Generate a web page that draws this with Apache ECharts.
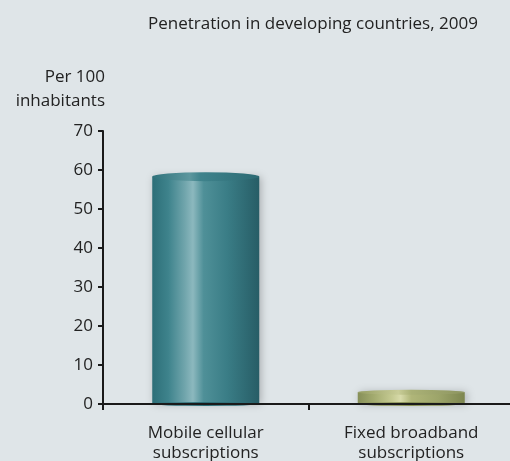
<!DOCTYPE html>
<html><head><meta charset="utf-8">
<script src="https://cdn.jsdelivr.net/npm/echarts@6/dist/echarts.min.js"></script>
<style>html,body{margin:0;padding:0;background:#dfe5e8}#c{width:510px;height:461px}</style>
</head><body><div id="c"></div>
<script>
const categories = ['Mobile cellular\nsubscriptions', 'Fixed broadband\nsubscriptions'];
const values = [58.3, 3.0];
const yTicks = [0, 10, 20, 30, 40, 50, 60, 70];
const titleText = 'Penetration in developing countries, 2009';
const yName = 'Per 100\ninhabitants';

const FONT = '"Open Sans", "Noto Sans", sans-serif';
const grads = [
  new echarts.graphic.LinearGradient(0,0,1,0,[
    {offset:0,color:'#2d6f78'},{offset:0.15,color:'#3e838c'},{offset:0.3,color:'#6fa4ab'},
    {offset:0.38,color:'#8cb8be'},{offset:0.48,color:'#4f9098'},{offset:0.7,color:'#3a7d86'},
    {offset:1,color:'#275d66'}]),
  new echarts.graphic.LinearGradient(0,0,1,0,[
    {offset:0,color:'#868f58'},{offset:0.15,color:'#a3ab6f'},{offset:0.32,color:'#c5ca92'},
    {offset:0.4,color:'#d8dbab'},{offset:0.5,color:'#b0b679'},{offset:0.75,color:'#9da56a'},
    {offset:1,color:'#7d8650'}])
];
const capGrads = [
  new echarts.graphic.LinearGradient(0,0,1,0,[
    {offset:0,color:'#2f727b'},{offset:0.35,color:'#5d979e'},{offset:0.45,color:'#3f838c'},{offset:1,color:'#2c6a73'}]),
  new echarts.graphic.LinearGradient(0,0,1,0,[
    {offset:0,color:'#959d62'},{offset:0.38,color:'#c9cd98'},{offset:0.5,color:'#aab176'},{offset:1,color:'#8d9560'}])
];
const capH = [9, 5];

const chart = echarts.init(document.getElementById('c'));
chart.setOption({
  backgroundColor: '#dfe5e8',
  animation: false,
  title: {
    text: titleText, left: 143, top: 11,
    textStyle: {fontFamily: FONT, fontSize: 17, fontWeight: 'normal', color: '#222'}
  },
  graphic: [{
    type: 'text', right: 405, top: 65,
    style: {text: yName, font: '17px ' + FONT, fill: '#222', textAlign: 'right', lineHeight: 24}
  }],
  grid: {left: 103, right: -4, top: 131, bottom: 57, outerBoundsMode: 'none'},
  xAxis: {
    type: 'category', data: categories, z: 10,
    axisLine: {lineStyle: {color: '#1a1a1a', width: 2}},
    axisTick: {show: true, length: 6, lineStyle: {color: '#1a1a1a', width: 2}},
    axisLabel: {fontFamily: FONT, fontSize: 17, color: '#222', margin: 19, lineHeight: 20}
  },
  yAxis: {
    type: 'value', min: 0, max: 70, interval: 10, z: 10,
    axisLine: {show: true, lineStyle: {color: '#1a1a1a', width: 2}},
    axisTick: {show: true, length: 5, lineStyle: {color: '#1a1a1a', width: 2}},
    axisLabel: {fontFamily: FONT, fontSize: 17, color: '#222', margin: 10,
      formatter: v => yTicks.includes(v) ? String(v) : ''},
    splitLine: {show: false}
  },
  series: [
    {
      type: 'bar', barWidth: 107, z: 2,
      data: values.map((v, i) => ({value: v, itemStyle: {color: grads[i],
        shadowBlur: 8, shadowColor: 'rgba(0,0,0,0.25)', shadowOffsetX: 2}}))
    },
    {
      type: 'pictorialBar', symbol: 'circle', symbolSize: [107, 4], z: 3,
      symbolPosition: 'start', symbolOffset: [0, '50%'],
      data: values.map((v, i) => ({value: v, itemStyle: {color: i === 0 ? '#2f6f78' : '#8a9258'}}))
    },
    {
      type: 'pictorialBar', symbol: 'circle', z: 4,
      symbolPosition: 'end', symbolOffset: [0, '-50%'],
      data: values.map((v, i) => ({value: v, symbolSize: [107, capH[i]], itemStyle: {color: capGrads[i]}}))
    }
  ]
});
</script></body></html>
